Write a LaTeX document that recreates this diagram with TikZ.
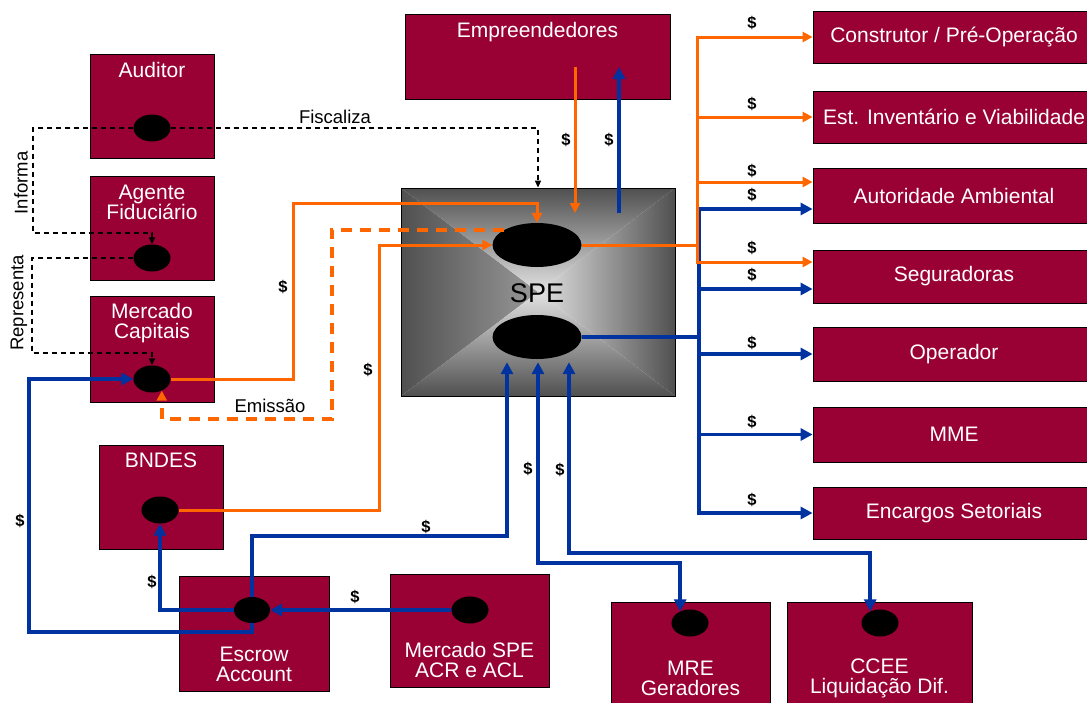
\documentclass[tikz,border=0pt]{standalone}
\usepackage{fontspec}
\setmainfont{Liberation Sans}
\usetikzlibrary{arrows.meta,shapes.geometric,calc}
\definecolor{maroon}{RGB}{153,0,51}
\definecolor{orng}{RGB}{255,102,0}
\definecolor{blu}{RGB}{0,51,160}
\definecolor{spedark}{RGB}{80,80,80}
\definecolor{spemid}{RGB}{150,150,150}
\definecolor{spelight}{RGB}{226,226,226}
\tikzset{
  box/.style={draw=black, line width=0.8pt, fill=maroon, inner sep=0pt},
  sqbox/.style={box, minimum width=124, minimum height=104},
  rbox/.style={box, minimum width=282, text=white, font=\fontsize{21}{20}\selectfont},
  dot/.style={ellipse, fill=black, inner sep=0pt, minimum width=37, minimum height=27},
  bigdot/.style={ellipse, fill=black, inner sep=0pt, minimum width=89, minimum height=44},
  btxt/.style={text=white, font=\fontsize{21}{20}\selectfont, align=center, inner sep=0pt},
  lbl/.style={font=\fontsize{18.5}{20}\selectfont, inner sep=0pt},
  dol/.style={font=\bfseries\fontsize{16.5}{16.5}\selectfont, inner sep=0pt},
  otip/.style={-{Triangle[length=10pt,width=10pt]}},
  ol/.style={draw=orng, line width=3pt},
  oa/.style={ol, otip},
  bl/.style={draw=blu, line width=3.8pt},
  ba/.style={bl, -{Triangle[length=12pt,width=12pt]}},
  bba/.style={bl, {Triangle[length=12pt,width=12pt]}-{Triangle[length=12pt,width=12pt]}},
  dk/.style={draw=black, line width=1.4pt, dash pattern=on 5pt off 4pt, -{Triangle[length=7pt,width=6pt]}},
  od/.style={draw=orng, line width=3.5pt, dash pattern=on 11pt off 8pt, otip},
  spebox/.style={draw=black, line width=0.8pt, inner sep=0pt, path picture={
    \shade[left color=spedark, middle color=spemid, right color=spelight] (path picture bounding box.north west) -- (path picture bounding box.south west) -- (path picture bounding box.center) -- cycle;
    \shade[left color=spelight, middle color=spemid, right color=spedark] (path picture bounding box.north east) -- (path picture bounding box.south east) -- (path picture bounding box.center) -- cycle;
    \shade[top color=spedark, middle color=spemid, bottom color=spelight] (path picture bounding box.north west) -- (path picture bounding box.north east) -- (path picture bounding box.center) -- cycle;
    \shade[top color=spelight, middle color=spemid, bottom color=spedark] (path picture bounding box.south west) -- (path picture bounding box.south east) -- (path picture bounding box.center) -- cycle;
  }}
}
\begin{document}
\begin{tikzpicture}[x=1pt, y=-1pt]
\useasboundingbox (0,0) rectangle (1087,702);
\clip (0,0) rectangle (1087,702);

% left column
\node[sqbox] (audB) at (152,106) {};
\node[btxt] (audT) at (152,70) {Auditor};
\node[dot] (aud) at (152,128) {};

\node[sqbox] (ageB) at (152,228) {};
\node[btxt] (ageT) at (152,202) {Agente\\Fiduciário};
\node[dot] (age) at (152,258) {};

\node[sqbox, minimum height=106] (mcB) at (152,349) {};
\node[btxt] (mcT) at (152,323) {Mercado\\Capitais};
\node[dot] (mc) at (152,379) {};

\node[sqbox] (bnB) at (161,497) {};
\node[btxt] (bnT) at (161,460) {BNDES};
\node[dot] (bn) at (160,510) {};

% top
\node[box, minimum width=265, minimum height=85] (emp) at (537.5,56.5) {};
\node[btxt] (empT) at (537.5,32) {Empreendedores};

% SPE
\node[spebox, minimum width=274, minimum height=208] (spe) at (538,292) {};
\node[font=\fontsize{27}{27}\selectfont, inner sep=0pt] (speT) at (537,293) {SPE};
\node[bigdot] (spet) at (537,245) {};
\node[bigdot] (speb) at (537,337) {};

% bottom
\node[box, minimum width=150, minimum height=115] (escB) at (254,633.5) {};
\node[btxt] (escT) at (254,664) {Escrow\\Account};
\node[dot, minimum width=36, minimum height=26] (esc) at (252,610) {};

\node[box, minimum width=159, minimum height=113] (mspB) at (469.5,630.5) {};
\node[btxt] (mspT) at (469.5,660) {Mercado SPE\\ACR e ACL};
\node[dot] (msp) at (470,610) {};

\node[box, minimum width=159, minimum height=112] (mreB) at (690.5,658) {};
\node[btxt] (mreT) at (690.5,678) {MRE\\Geradores};
\node[dot] (mre) at (690,623) {};

\node[box, minimum width=185, minimum height=112] (cceB) at (879.5,658) {};
\node[btxt] (cceT) at (879.5,678) {CCEE\\Liquidação Dif.};
\node[dot] (cce) at (880,623) {};

% right column
\node[rbox, minimum height=52] (cons) at (954,37) {Construtor / Pré-Operação};
\node[rbox, minimum height=52] (est) at (954,117) {Est. Inventário e Viabilidade};
\node[rbox, minimum height=55] (aut) at (954,195.5) {Autoridade Ambiental};
\node[rbox, minimum height=53] (seg) at (954,276.5) {Seguradoras};
\node[rbox, minimum height=54] (op) at (954,354) {Operador};
\node[rbox, minimum height=55] (mme) at (954,434.5) {MME};
\node[rbox, minimum height=52] (enc) at (954,513) {Encargos Setoriais};

% dashed black relations
\draw[dk] (aud.east) -| (spe.north);
\draw[dk] (aud.west) -- (33,128) -- (33,233) -| (age.north);
\draw[dk] (age.west) -- (32,258) -- (32,353) -| (mc.north);
\node[lbl] (fisc) at (335,117) {Fiscaliza};
\node[lbl, rotate=90] (inf) at (21,183) {Informa};
\node[lbl, rotate=90] (rep) at (19,303) {Representa};
\node[lbl] (emi) at (270,406) {Emissão};

% orange flows into SPE
\draw[oa] (mc.east) -| (293,203) -| (spet.north);
\draw[od] (spet.155) -| (332,419) -| (mc.-50);
\draw[oa] (bn.east) -| (379,245) -- (spet.west);

% Empreendedores
\coordinate (e1s) at (575,67);
\coordinate (e1e) at (575,213);
\coordinate (e2s) at (619,213);
\coordinate (e2e) at (619,67);
\draw[oa] (e1s) -- (e1e);
\draw[ba] (e2s) -- (e2e);

% blue branches to the right
\coordinate (bj) at (699,337);
\draw[ba] (speb.east) -- (bj) |- ($(aut.west)+(0,13.5)$);
\draw[ba] (speb.east) -- (bj) |- ($(seg.west)+(0,12.5)$);
\draw[ba] (speb.east) -- (bj) |- (op.west);
\draw[ba] (speb.east) -- (bj) |- (mme.west);
\draw[ba] (speb.east) -- (bj) |- (enc.west);

% orange branches to the right
\coordinate (oj) at (697,245);
\draw[oa] (spet.east) -- (oj) |- (cons.west);
\draw[oa] (spet.east) -- (oj) |- (est.west);
\draw[oa] (spet.east) -- (oj) |- ($(aut.west)+(0,-13.5)$);
\draw[oa] (spet.east) -- (oj) |- ($(seg.west)+(0,-14.5)$);

% blue flows at the bottom
\draw[ba] (esc.north) |- (507,536) -- ($(speb.south)+(-30,3)$);
\draw[bba] ($(speb.south)+(1,3)$) -- (538,563) -| (mre.130);
\draw[bba] ($(speb.south)+(32,3)$) -- (569,553) -| (cce.130);
\draw[ba] (msp.west) -- (esc.east);
\draw[ba] (esc.west) -| (bn.south);
\draw[ba] (esc.south) |- (29,632) |- (mc.west);

% dollar labels
\node[dol] (d1) at (283,287) {\$};
\node[dol] (d2) at (368,370) {\$};
\node[dol] (d3) at (566,140) {\$};
\node[dol] (d4) at (609,140) {\$};
\node[dol] (d5) at (752,23) {\$};
\node[dol] (d6) at (752,104) {\$};
\node[dol] (d7) at (752,171) {\$};
\node[dol] (d8) at (752,195) {\$};
\node[dol] (d9) at (752,248) {\$};
\node[dol] (d10) at (752,275) {\$};
\node[dol] (d11) at (752,343) {\$};
\node[dol] (d12) at (752,422) {\$};
\node[dol] (d13) at (752,500) {\$};
\node[dol] (d14) at (20,521) {\$};
\node[dol] (d15) at (152,582) {\$};
\node[dol] (d16) at (426,527) {\$};
\node[dol] (d17) at (355,597) {\$};
\node[dol] (d18) at (528,469) {\$};
\node[dol] (d19) at (560,470) {\$};
\end{tikzpicture}
\end{document}
